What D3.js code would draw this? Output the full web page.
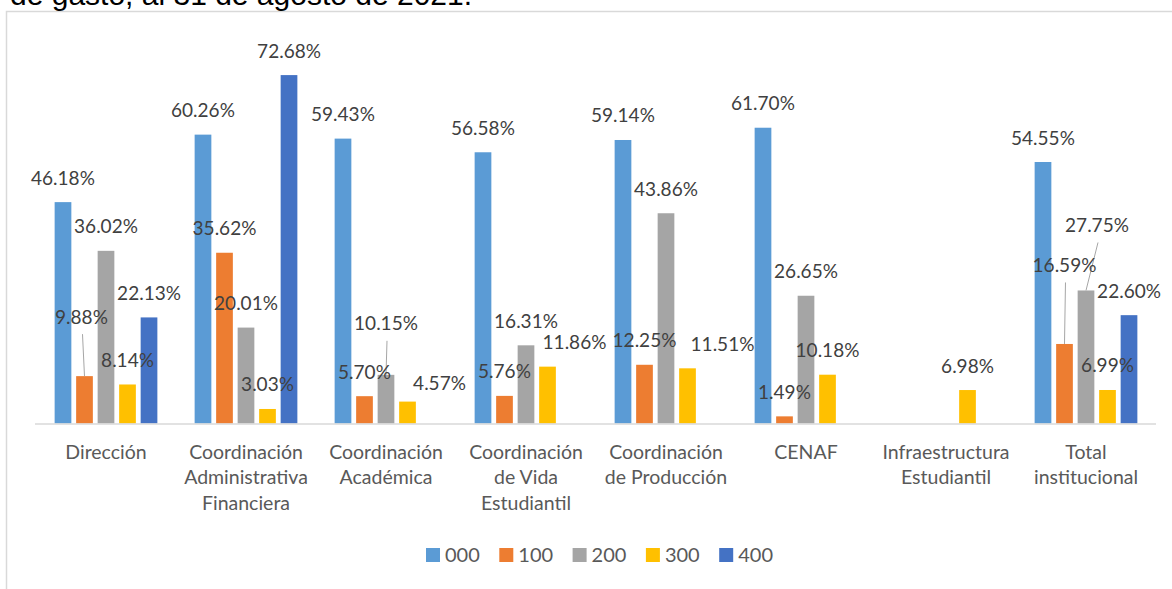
<!DOCTYPE html>
<html>
<head>
<meta charset="utf-8">
<script src="https://cdn.jsdelivr.net/npm/d3@7"></script>
<style>
  body { margin: 0; background: #fff; }
  svg { display: block; }
</style>
</head>
<body>
<svg id="chart"></svg>
<script>
// categories (line breaks = how the labels wrap under the axis)
const categories = [
  "Dirección",
  "Coordinación\nAdministrativa\nFinanciera",
  "Coordinación\nAcadémica",
  "Coordinación\nde Vida\nEstudiantil",
  "Coordinación\nde Producción",
  "CENAF",
  "Infraestructura\nEstudiantil",
  "Total\ninstitucional"
];
const seriesNames = ["000", "100", "200", "300", "400"];

// % executed per spending group (null = no bar)
const s000 = [46.18, 60.26, 59.43, 56.58, 59.14, 61.70, null, 54.55];
const s100 = [9.88, 35.62, 5.70, 5.76, 12.25, 1.49, null, 16.59];
const s200 = [36.02, 20.01, 10.15, 16.31, 43.86, 26.65, null, 27.75];
const s300 = [8.14, 3.03, 4.57, 11.86, 11.51, 10.18, 6.98, 6.99];
const s400 = [22.13, 72.68, null, null, null, null, null, 22.60];

const yTicks = [0, 80]; // value axis range (hidden)

const title = "de gasto, al 31 de agosto de 2021.";

var seriesValues = [s000, s100, s200, s300, s400];
var colors = ["#5B9BD5", "#ED7D31", "#A5A5A5", "#FFC000", "#4472C4"];

// labels that were dragged away from their bar in the original
// key: category index - series index
var labelNudge = {
  "0-1": { dx: -3, dy: -35, leader: true },
  "2-2": { dx: 0, dy: -27, leader: true },
  "2-3": { dx: 32, dy: 6 },
  "3-3": { dx: 27, dy: 0 },
  "4-3": { dx: 35, dy: 0 },
  "7-1": { dx: 0, dy: -54.5, leader: true },
  "7-2": { dx: 11, dy: -41, leader: true }
};

var width = 1172,
    height = 589;

var svg = d3.select("#chart")
    .attr("width", width)
    .attr("height", height);

// chart frame
svg.append("rect")
    .attr("x", 6.5)
    .attr("y", 11.5)
    .attr("width", 1200)
    .attr("height", 700)
    .attr("fill", "none")
    .attr("stroke", "#d9d9d9")
    .attr("stroke-width", 1.5);

// title, cut off at the top of the picture
svg.append("text")
    .attr("x", 10)
    .attr("y", 5)
    .style("font-family", "'Liberation Sans', Arial, sans-serif")
    .style("font-size", "30px")
    .attr("fill", "#000")
    .text(title);

var x0 = d3.scaleBand()
    .domain(categories)
    .range([36, 1156])
    .padding(0);

var bw = x0.bandwidth();
var x1 = d3.scaleBand()
    .domain(seriesNames)
    .range([bw * 0.116, bw * 0.884])
    .paddingInner(0.223)
    .paddingOuter(0.1115);

var y = d3.scaleLinear()
    .domain(yTicks)
    .range([423.5, 40]);

// flat list of bars
var bars = [];
categories.forEach(function(c, i) {
  seriesNames.forEach(function(s, j) {
    var v = seriesValues[j][i];
    if (v != null) bars.push({ cat: c, ci: i, series: s, si: j, value: v });
  });
});

var g = svg.append("g");

g.selectAll(".bar")
    .data(bars)
    .enter().append("rect")
    .attr("class", "bar")
    .attr("x", function(d) { return x0(d.cat) + x1(d.series); })
    .attr("y", function(d) { return y(d.value); })
    .attr("width", x1.bandwidth())
    .attr("height", function(d) { return y(0) - y(d.value); })
    .attr("fill", function(d) { return colors[d.si]; });

// category axis line
svg.append("line")
    .attr("x1", x0.range()[0] - 1)
    .attr("x2", x0.range()[1])
    .attr("y1", y(0) + 0.5)
    .attr("y2", y(0) + 0.5)
    .attr("stroke", "#d9d9d9")
    .attr("stroke-width", 1.5);

function barCenter(d) {
  return x0(d.cat) + x1(d.series) + x1.bandwidth() / 2;
}

// leader lines
g.selectAll(".leader")
    .data(bars.filter(function(d) {
      var n = labelNudge[d.ci + "-" + d.si];
      return n && n.leader;
    }))
    .enter().append("line")
    .attr("class", "leader")
    .attr("x1", function(d) { return barCenter(d) + labelNudge[d.ci + "-" + d.si].dx + 1; })
    .attr("y1", function(d) { return y(d.value) - 17.5 + labelNudge[d.ci + "-" + d.si].dy + 10.5; })
    .attr("x2", function(d) { return barCenter(d); })
    .attr("y2", function(d) { return y(d.value); })
    .attr("stroke", "#a6a6a6")
    .attr("stroke-width", 1);

// data labels
g.selectAll(".label")
    .data(bars)
    .enter().append("text")
    .attr("class", "label")
    .attr("x", function(d) {
      var n = labelNudge[d.ci + "-" + d.si];
      return barCenter(d) + (n ? n.dx : 0);
    })
    .attr("y", function(d) {
      var n = labelNudge[d.ci + "-" + d.si];
      return y(d.value) - 17.5 + (n ? n.dy : 0);
    })
    .attr("text-anchor", "middle")
    .style("font-family", "Lato, 'Open Sans', sans-serif")
    .style("font-size", "19px")
    .attr("fill", "#404040")
    .text(function(d) { return d.value.toFixed(2) + "%"; });

// category labels
var catLabels = svg.selectAll(".cat")
    .data(categories)
    .enter().append("text")
    .attr("class", "cat")
    .attr("text-anchor", "middle")
    .attr("transform", function(d) {
      return "translate(" + (x0(d) + bw / 2) + "," + (y(0) + 35) + ")";
    })
    .style("font-family", "Lato, 'Open Sans', sans-serif")
    .style("font-size", "19.5px")
    .attr("fill", "#595959");

catLabels.selectAll("tspan")
    .data(function(d) { return d.split("\n"); })
    .enter().append("tspan")
    .attr("x", 0)
    .attr("y", function(d, i) { return i * 25.9; })
    .text(function(d) { return d; });

// legend
var legend = svg.append("g")
    .attr("transform", "translate(426,548)");

var item = legend.selectAll(".item")
    .data(seriesNames)
    .enter().append("g")
    .attr("class", "item")
    .attr("transform", function(d, i) { return "translate(" + (i * 73.3) + ",0)"; });

item.append("rect")
    .attr("width", 14)
    .attr("height", 14)
    .attr("fill", function(d, i) { return colors[i]; });

item.append("text")
    .attr("x", 19)
    .attr("y", 14)
    .style("font-family", "Lato, 'Open Sans', sans-serif")
    .style("font-size", "20px")
    .attr("fill", "#595959")
    .text(function(d) { return d; });
</script>
</body>
</html>
